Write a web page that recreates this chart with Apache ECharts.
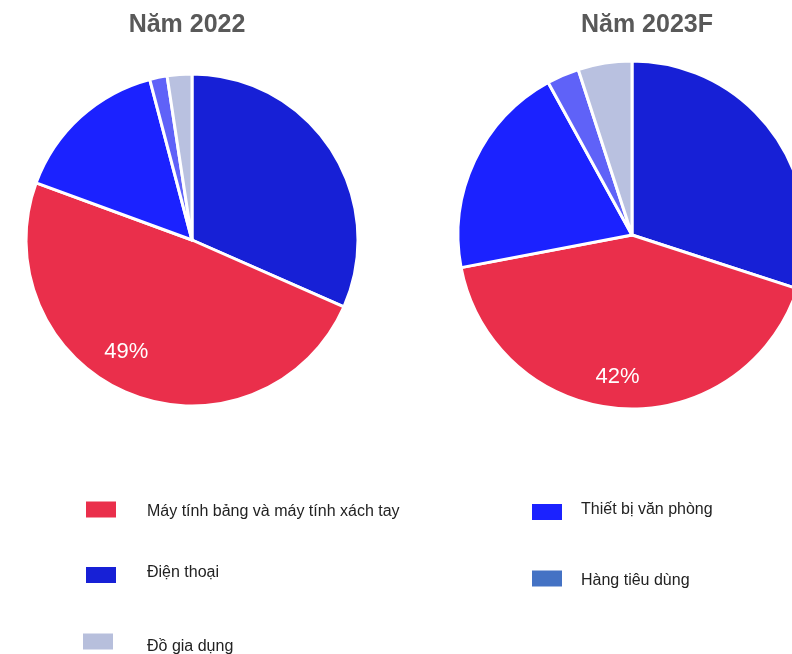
<!DOCTYPE html>
<html>
<head>
<meta charset="utf-8">
<script src="https://cdn.jsdelivr.net/npm/echarts@6/dist/echarts.min.js"></script>
<style>
  html, body { margin: 0; padding: 0; background: #ffffff; }
  #chart { width: 792px; height: 654px; }
</style>
</head>
<body>
<div id="chart"></div>
<script>
// Product groups, in clockwise order starting at 12 o'clock
const categories = [
  'Điện thoại',
  'Máy tính bảng và máy tính xách tay',
  'Thiết bị văn phòng',
  'Hàng tiêu dùng',
  'Đồ gia dụng'
];

// Revenue share (%) per product group
const values2022 = [31.6, 49, 15.3, 1.7, 2.4];
const values2023F = [30, 42, 20, 3, 5];

const yearTitles = ['Năm 2022', 'Năm 2023F'];

// Slice colours and legend swatch colours, same order as categories
const sliceColors = ['#1720d6', '#ea2f4b', '#1b22ff', '#5f62f8', '#b9c1e0'];
const swatchColors = ['#1720d6', '#ea2f4b', '#1b22ff', '#4472c4', '#b7bfdc'];

const FONT = '"Liberation Sans", Arial, sans-serif';

const chart = echarts.init(document.getElementById('chart'), null, { renderer: 'canvas' });

// One pie per year
const pies = [
  { values: values2022, center: [192, 240], radius: 166, labelOffset: [-18, -6] },
  { values: values2023F, center: [632, 235], radius: 174, labelOffset: [-6, 9] }
];

function largestIndex(arr) {
  let k = 0;
  arr.forEach((v, i) => { if (v > arr[k]) k = i; });
  return k;
}

const series = [];
pies.forEach((p, pi) => {
  // filled slices
  series.push({
    type: 'pie',
    name: yearTitles[pi],
    center: p.center,
    radius: [0, p.radius],
    startAngle: 90,
    clockwise: true,
    silent: true,
    avoidLabelOverlap: false,
    label: { show: false },
    labelLine: { show: false },
    itemStyle: { borderColor: '#ffffff', borderWidth: 3 },
    emphasis: { disabled: true },
    data: categories.map((c, i) => ({
      name: c,
      value: p.values[i],
      itemStyle: { color: sliceColors[i] }
    }))
  });
  // transparent ring carrying the percentage label of the largest slice
  const big = largestIndex(p.values);
  series.push({
    type: 'pie',
    name: yearTitles[pi] + ' %',
    center: p.center,
    radius: [p.radius * 0.5, p.radius],
    startAngle: 90,
    clockwise: true,
    silent: true,
    avoidLabelOverlap: false,
    labelLine: { show: false },
    itemStyle: { color: 'rgba(0,0,0,0)', borderWidth: 0 },
    emphasis: { disabled: true },
    data: categories.map((c, i) => ({
      name: c,
      value: p.values[i],
      label: {
        show: i === big,
        position: 'inside',
        formatter: '{d}%',
        color: '#ffffff',
        fontSize: 22,
        fontFamily: FONT,
        offset: p.labelOffset
      }
    }))
  });
});

// Legend: one block per entry, two columns.
// shift > 0 moves the label text down relative to its swatch, < 0 moves it up.
const legendSpots = [
  { idx: 1, left: 86, top: 500, gap: 26, shift: 2.5 },
  { idx: 0, left: 86, top: 564.5, gap: 26, shift: -2.5 },
  { idx: 4, left: 83, top: 632, gap: 29, shift: 5 },
  { idx: 2, left: 532, top: 502, gap: 14, shift: -2 },
  { idx: 3, left: 532, top: 569, gap: 14, shift: 2 }
];

const legends = legendSpots.map(s => {
  const a = Math.abs(s.shift);
  return {
    show: true,
    left: s.left,
    top: s.top,
    padding: 0,
    orient: 'horizontal',
    icon: 'rect',
    itemWidth: 30,
    itemHeight: 16,
    selectedMode: false,
    itemStyle: { borderWidth: 0 },
    formatter: name => s.shift > 0
      ? '{s| }\n{t|' + name + '}'
      : (s.shift < 0 ? '{t|' + name + '}\n{s| }' : '{t|' + name + '}'),
    textStyle: {
      padding: [0, 0, 0, s.gap],
      rich: {
        t: { fontFamily: FONT, fontSize: 16, lineHeight: 18, color: '#222222' },
        s: { fontSize: 1, lineHeight: 2 * a }
      }
    },
    data: [{ name: categories[s.idx], itemStyle: { color: swatchColors[s.idx], borderWidth: 0 } }]
  };
});

const titles = [
  { left: 187, text: yearTitles[0] },
  { left: 647, text: yearTitles[1] }
].map(t => ({
  text: t.text,
  left: t.left,
  top: 13,
  padding: 0,
  textAlign: 'center',
  textStyle: { fontFamily: FONT, fontSize: 25, fontWeight: 'bold', color: '#595959' }
}));

chart.setOption({
  backgroundColor: '#ffffff',
  animation: false,
  title: titles,
  legend: legends,
  series: series
});
</script>
</body>
</html>
